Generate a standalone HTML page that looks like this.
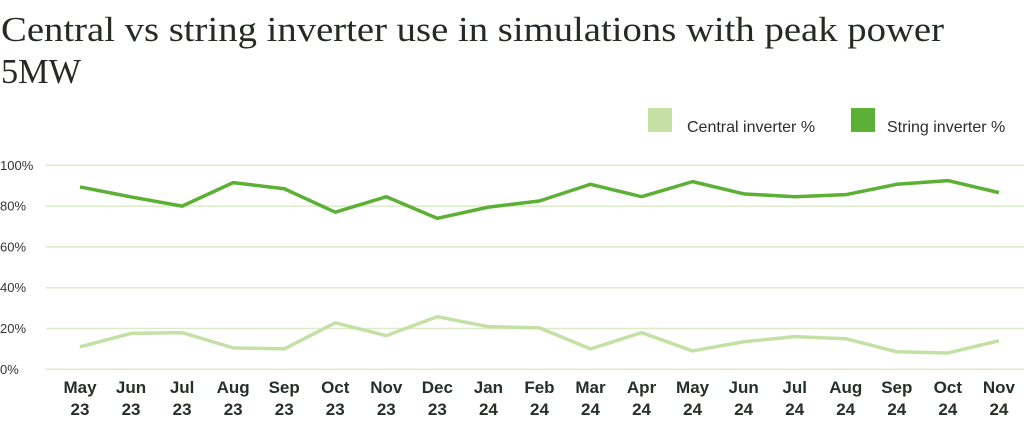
<!DOCTYPE html>
<html><head><meta charset="utf-8"><style>
html,body{margin:0;padding:0;background:#fff;}
svg{display:block;}
</style></head><body>
<svg id="chart" width="1024" height="423" viewBox="0 0 1024 423" xmlns="http://www.w3.org/2000/svg">
<text x="1" y="41" font-family="Liberation Serif, serif" font-size="35" fill="#252a25" textLength="943" lengthAdjust="spacingAndGlyphs">Central vs string inverter use in simulations with peak power</text>
<text x="1" y="83" font-family="Liberation Serif, serif" font-size="35" fill="#252a25" textLength="80" lengthAdjust="spacingAndGlyphs">5MW</text>
<g>
<rect x="648" y="108" width="24" height="24" fill="#c5e0a5"/>
<text x="687" y="132" font-family="Liberation Sans, sans-serif" font-size="16" fill="#2a2e2a">Central inverter %</text>
<rect x="851" y="108" width="24" height="24" fill="#5cb035"/>
<text x="887" y="132" font-family="Liberation Sans, sans-serif" font-size="16" fill="#2a2e2a">String inverter %</text>
</g>
<g id="grid"></g><g id="yticks"></g><g id="xticks"></g><g id="series"></g>
</svg>
<script>
const categories=["May","Jun","Jul","Aug","Sep","Oct","Nov","Dec","Jan","Feb","Mar","Apr","May","Jun","Jul","Aug","Sep","Oct","Nov"];
const years=["23","23","23","23","23","23","23","23","24","24","24","24","24","24","24","24","24","24","24"];
const centralValues=[11,17.6,18,10.5,10,22.8,16.5,25.8,20.9,20.3,10,18,9,13.5,16,15,8.6,8,14];
const stringValues=[89.4,84.5,80,91.5,88.5,77,84.6,74,79.5,82.5,90.7,84.6,92,86,84.6,85.6,90.7,92.5,86.6];
const yTicks=[0,20,40,60,80,100];
const yTickLabels=["0%","20%","40%","60%","80%","100%"];
const NS="http://www.w3.org/2000/svg";
function yScale(v){return 369.3-v*2.04;}
function xScale(i){return 80+i*51.05;}
function mk(tag,attrs,parent){const e=document.createElementNS(NS,tag);for(const k in attrs)e.setAttribute(k,attrs[k]);parent.appendChild(e);return e;}
const grid=document.getElementById('grid'),yt=document.getElementById('yticks'),xt=document.getElementById('xticks'),ser=document.getElementById('series');
yTicks.forEach((t,i)=>{
 const l=mk('line',{x1:46,x2:1024,y1:yScale(t),y2:yScale(t),stroke:'#dcebc9','stroke-width':1.5},grid);
 
 
 const tx=mk('text',{x:0,y:yScale(t)+4.5,'font-family':'Liberation Sans, sans-serif','font-size':13,fill:'#333'},yt);
 tx.textContent=yTickLabels[i];
 
 
});
categories.forEach((c,i)=>{
 const tx=mk('text',{x:xScale(i),y:393,'text-anchor':'middle','font-family':'Liberation Sans, sans-serif','font-size':17,'font-weight':'bold',fill:'#26302a'},xt);
 tx.textContent=c;
 
 
 const ty=mk('text',{x:xScale(i),y:415,'text-anchor':'middle','font-family':'Liberation Sans, sans-serif','font-size':17,'font-weight':'bold',fill:'#26302a'},xt);
 ty.textContent=years[i];
 
 
});
function line(vals,color,name){
 const p=mk('polyline',{points:vals.map((v,i)=>xScale(i)+','+yScale(v)).join(' '),fill:'none',stroke:color,'stroke-width':3.5,'stroke-linejoin':'round'},ser);
 
 
}
line(centralValues,'#c5e0a5','central-inverter-line');
line(stringValues,'#5cb035','string-inverter-line');
</script>
</body></html>
